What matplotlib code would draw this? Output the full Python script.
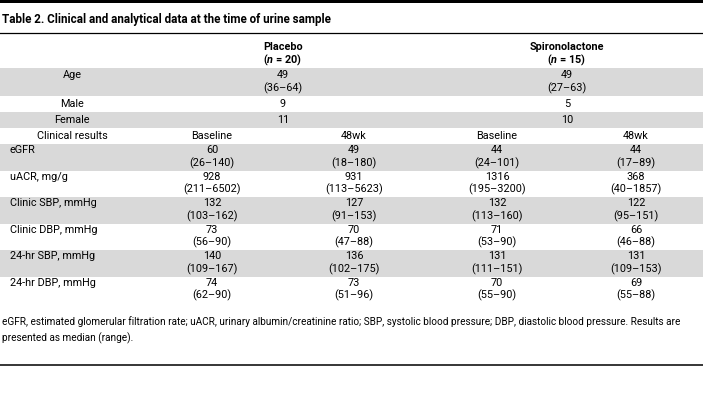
import matplotlib.pyplot as plt

# fonts
main_font = 'Roboto'
plt.rcParams['font.family'] = [main_font, 'DejaVu Sans']
plt.rcParams['mathtext.fontset'] = 'custom'
plt.rcParams['mathtext.rm'] = main_font
plt.rcParams['mathtext.it'] = main_font + ':italic'
plt.rcParams['mathtext.bf'] = main_font + ':bold'
plt.rcParams['mathtext.bfit'] = main_font + ':italic:bold'

# table data
title = 'Table 2. Clinical and analytical data at the time of urine sample'
groups = ['Placebo', 'Spironolactone']
group_n = [20, 15]
age_median = [49, 49]
age_range = ['36–64', '27–63']
male = [9, 5]
female = [11, 10]
timepoints = ['Baseline', '48wk', 'Baseline', '48wk']
measures = ['eGFR', 'uACR, mg/g', 'Clinic SBP, mmHg', 'Clinic DBP, mmHg',
            '24-hr SBP, mmHg', '24-hr DBP, mmHg']
medians = [
    [60, 49, 44, 44],
    [928, 931, 1316, 368],
    [132, 127, 132, 122],
    [73, 70, 71, 66],
    [140, 136, 131, 131],
    [74, 73, 70, 69],
]
ranges = [
    ['26–140', '18–180', '24–101', '17–89'],
    ['211–6502', '113–5623', '195–3200', '40–1857'],
    ['103–162', '91–153', '113–160', '95–151'],
    ['56–90', '47–88', '53–90', '46–88'],
    ['109–167', '102–175', '111–151', '109–153'],
    ['62–90', '51–96', '55–90', '55–88'],
]
footnote = ('eGFR, estimated glomerular filtration rate; uACR, urinary albumin/creatinine ratio; '
            'SBP, systolic blood pressure; DBP, diastolic blood pressure. Results are\n'
            'presented as median (range).')

W, H = 703, 419
fig = plt.figure(figsize=(W / 100, H / 100), dpi=100)
ax = fig.add_axes([0, 0, 1, 1])
ax.set_xlim(0, W)
ax.set_ylim(H, 0)
ax.axis('off')

shade = '#d9d9d9'
fs = 7.8
label_x = 72
col_x = [212, 354, 497, 636]
group_x = [283, 567]
line_gap = 13

# rules
ax.axhspan(0, 3, color='black', lw=0)
ax.axhline(33, color='black', lw=0.9)
ax.axhline(365, color='black', lw=1.1)

ax.text(2, 20, title, fontsize=8.4, fontweight='bold', va='center', ha='left')

# group header
for gx, g, n in zip(group_x, groups, group_n):
    ax.text(gx, 47, g, fontsize=fs, fontweight='bold', ha='center', va='center')
    ax.text(gx, 60, r'($\mathbfit{n}$ = %d)' % n, fontsize=fs, fontweight='bold',
            ha='center', va='center')

# age
ax.axhspan(68, 96, color=shade, lw=0)
ax.text(label_x, 75, 'Age', fontsize=fs, ha='center', va='center')
for gx, m, r in zip(group_x, age_median, age_range):
    ax.text(gx, 75, str(m), fontsize=fs, ha='center', va='center')
    ax.text(gx, 75 + line_gap, '(' + r + ')', fontsize=fs, ha='center', va='center')

# sex
ax.text(label_x, 104, 'Male', fontsize=fs, ha='center', va='center')
ax.axhspan(112, 128, color=shade, lw=0)
ax.text(label_x, 120, 'Female', fontsize=fs, ha='center', va='center')
for gx, m, f in zip(group_x, male, female):
    ax.text(gx, 104, str(m), fontsize=fs, ha='center', va='center')
    ax.text(gx, 120, str(f), fontsize=fs, ha='center', va='center')

# clinical results header
ax.text(label_x, 136, 'Clinical results', fontsize=fs, ha='center', va='center')
for cx, t in zip(col_x, timepoints):
    ax.text(cx, 136, t, fontsize=fs, ha='center', va='center')

# measures
row_top = 144
row_h = 26.5
for i, name in enumerate(measures):
    top = row_top + i * row_h
    if i % 2 == 0:
        ax.axhspan(top, top + row_h, color=shade, lw=0)
    y1 = top + 6
    ax.text(10, y1, name, fontsize=fs, ha='left', va='center')
    for cx, m, r in zip(col_x, medians[i], ranges[i]):
        ax.text(cx, y1, str(m), fontsize=fs, ha='center', va='center')
        ax.text(cx, y1 + line_gap, '(' + r + ')', fontsize=fs, ha='center', va='center')

ax.text(2, 330, footnote, fontsize=7.2, ha='left', va='center', linespacing=1.7)

fig.savefig('out.png', dpi=100)
